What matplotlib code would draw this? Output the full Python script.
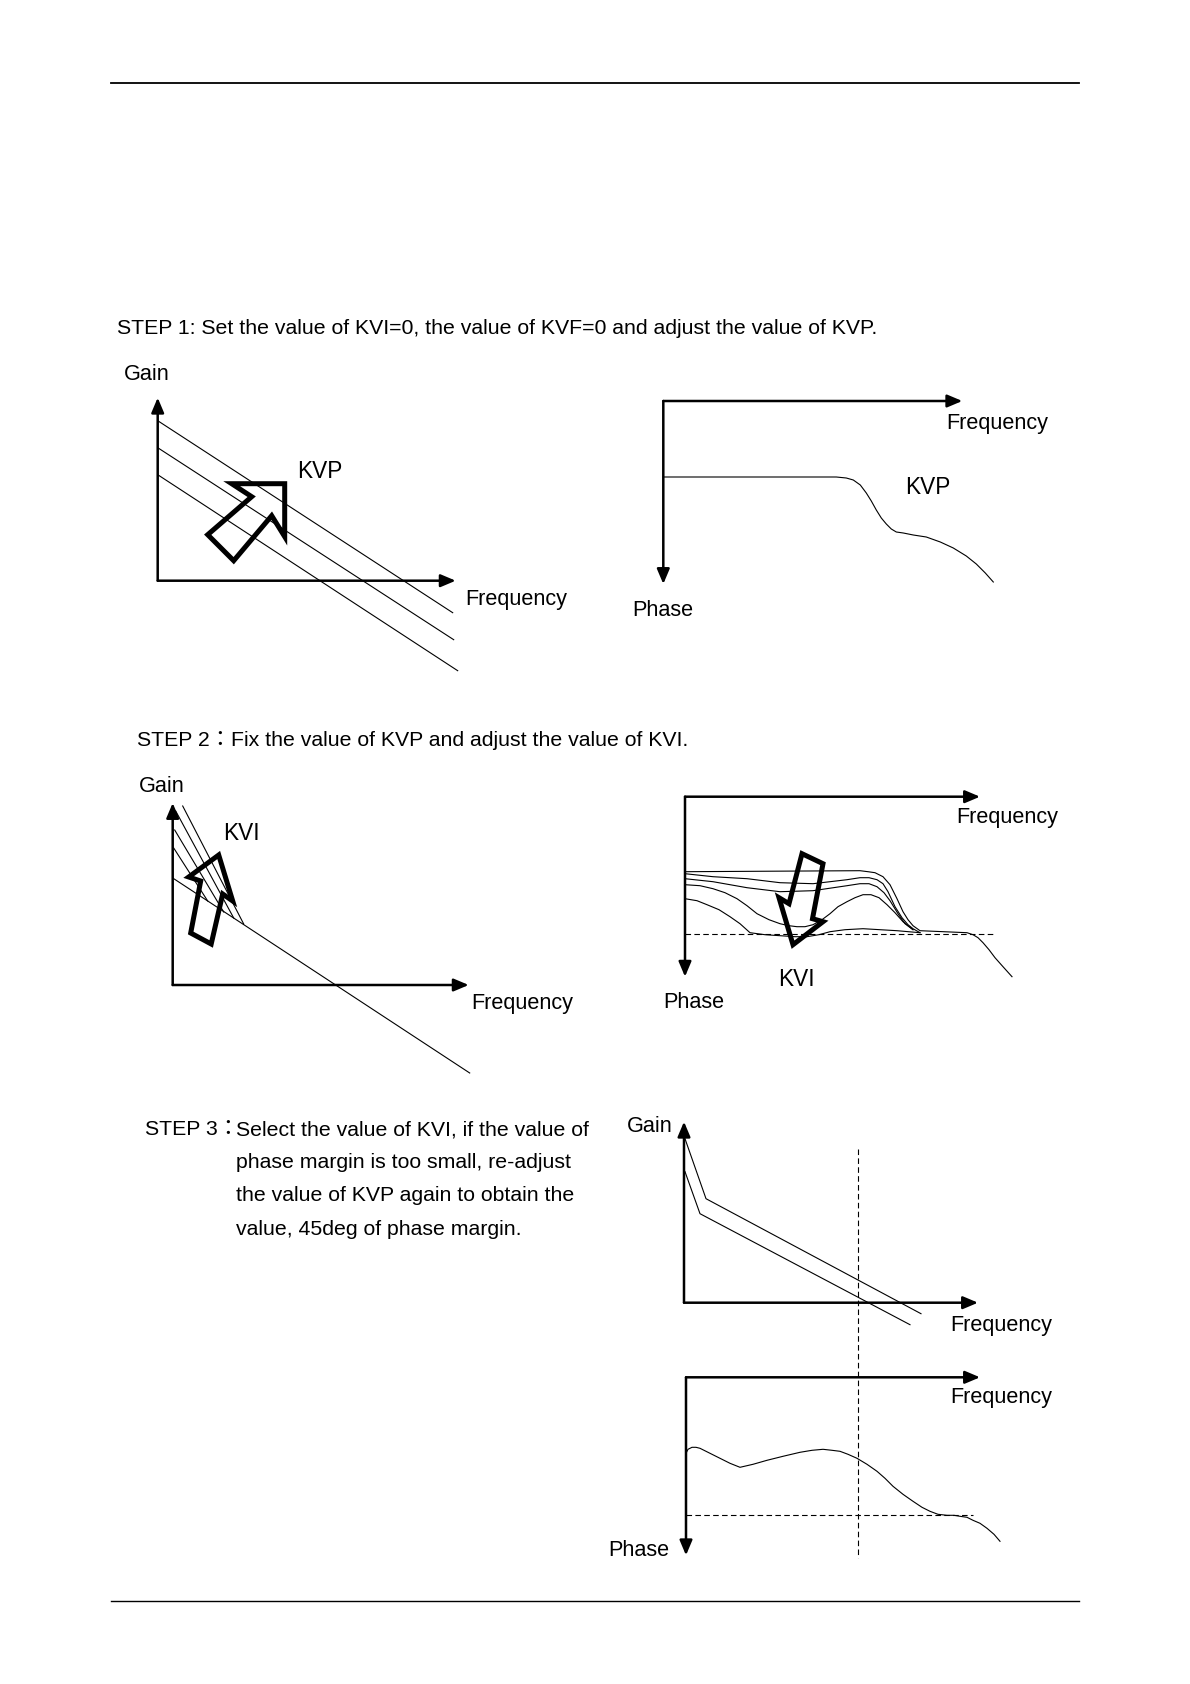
import matplotlib
matplotlib.use("Agg")
import matplotlib.pyplot as plt
from matplotlib.patches import FancyArrowPatch, Polygon, Rectangle
from matplotlib.transforms import Affine2D

plt.rcParams['font.family'] = ['Liberation Sans', 'Noto Sans CJK JP', 'DejaVu Sans']

# ---- text of the page ----
step1_text = "STEP 1: Set the value of KVI=0, the value of KVF=0 and adjust the value of KVP."
step2_text = "STEP 2：Fix the value of KVP and adjust the value of KVI."
step3_head = "STEP 3："
step3_lines = ["Select the value of KVI, if the value of",
               "phase margin is too small, re-adjust",
               "the value of KVP again to obtain the",
               "value, 45deg of phase margin."]

# ---- STEP 1, gain (x = frequency, y = gain, origin at axis corner) ----
s1_gain_x = [[0, 295], [0, 296], [0, 300]]
s1_gain_y = [[160, -32], [133, -59], [106, -90]]
s1_arrow_x = [127, 127, 114, 76, 50, 94, 74]
s1_arrow_y = [97, 44, 65, 20, 46, 84, 97]

# ---- STEP 1, phase (y = phase lag, grows downwards) ----
s1_phase_x = [0, 90, 163, 173, 183, 190, 197, 203, 208, 213, 218, 223, 228, 233, 240, 250,
              263, 277, 290, 303, 313, 322, 330]
s1_phase_y = [76, 76, 76, 76, 77, 79, 84, 92, 100, 109, 117, 123, 128, 131, 132, 134,
              136, 141, 147, 155, 163, 172, 181]

# ---- STEP 2, gain ----
s2_main_x = [0, 297]
s2_main_y = [107, -88]
s2_steep_x = [[10, 71], [3, 61], [2, 51], [1, 35]]
s2_steep_y = [[179, 61], [174, 67], [155, 73], [137, 84]]
s2_arrow_x = [46, 60, 50, 38.5, 18, 28, 16]
s2_arrow_y = [130, 84, 91, 41, 52, 104, 108]

# ---- STEP 2, phase: five curves for growing KVI ----
s2_phase_x = [
    [0, 175, 183, 190, 198, 205, 212, 218, 223, 228, 235, 282, 288, 293, 298, 304, 310, 318, 327],
    [0, 28, 62, 95, 128, 162, 175, 184, 192, 198, 203, 210, 217, 223, 228, 235],
    [0, 28, 62, 95, 128, 162, 175, 184, 192, 199, 205, 213, 220, 228],
    [0, 15, 28, 40, 52, 62, 72, 84, 95, 104, 112, 120, 128, 137, 145, 153, 162, 170, 178,
     186, 194, 202, 210, 218, 228],
    [0, 12, 22, 34, 45, 55, 65, 80, 95, 110, 122, 134, 145, 160, 178, 195, 212, 235],
]
s2_phase_y = [
    [75, 74, 75, 76, 80, 88, 102, 115, 123, 129, 134, 136, 138, 141, 146, 153, 161, 170, 180],
    [77, 80, 82, 86, 87, 83, 81, 81, 83, 87, 95, 110, 121, 128, 132, 136],
    [82, 85, 91, 95, 94, 89, 87, 87, 90, 96, 104, 117, 127, 133],
    [88, 89, 92, 96, 102, 109, 117, 123, 127, 129, 130, 130, 128, 123, 117, 110, 105, 101, 98,
     98, 101, 108, 116, 125, 133],
    [102, 104, 108, 113, 120, 127, 136, 138, 139, 140, 140, 138, 135, 133, 132, 133, 134, 136],
]
s2_margin_x = [0, 310]
s2_margin_y = [137, 137]
s2_arrow_px = [117, 138, 127.5, 138, 108, 94, 104]
s2_arrow_py = [57, 67, 122, 125, 148, 101, 107]

# ---- STEP 3, gain ----
s3_gain_x = [[1, 22, 237], [1, 16, 226]]
s3_gain_y = [[164, 104, -11], [131, 89, -22]]
s3_cross_x = [174, 174]
s3_cross_y = [154, -255]

# ---- STEP 3, phase ----
s3_phase_x = [0, 2, 6, 10, 14, 24, 34, 44, 54, 67, 81, 97, 114, 126, 137, 146, 154, 162, 171,
              181, 191, 199, 207, 217, 227, 236, 244, 252, 261, 268, 274, 281, 287, 294, 301, 308, 314]
s3_phase_y = [76, 72, 70, 70, 71, 76, 81, 86, 90, 87, 83, 79, 75, 73, 72, 73, 74, 77, 81,
              87, 94, 101, 109, 117, 124, 130, 134, 137, 138, 138, 139, 140, 143, 146, 151, 157, 164]
s3_margin_x = [0, 287]
s3_margin_y = [138, 138]

fig = plt.figure(figsize=(11.9, 16.84), dpi=100)
ax = fig.add_axes([0, 0, 1, 1])
ax.set_xlim(0, 1190)
ax.set_ylim(1684, 0)
ax.axis('off')

FS = 15.3
LFS = 15.6
thin = dict(color='k', lw=0.8, solid_joinstyle='round')


def gain_panel(ox, oy):
    return Affine2D().scale(1, -1).translate(ox, oy) + ax.transData


def phase_panel(ox, oy):
    return Affine2D().translate(ox, oy) + ax.transData


def axis_arrow(t, a, b):
    ax.add_patch(FancyArrowPatch(a, b, transform=t, color='k', lw=1.8,
                                 arrowstyle='-|>,head_length=0.9,head_width=0.38',
                                 mutation_scale=10, shrinkA=0, shrinkB=0))


def big_arrow(t, xs, ys):
    ax.add_patch(Polygon(list(zip(xs, ys)), closed=True, fill=False, ec='k',
                         lw=3.6, joinstyle='miter', transform=t))


def label(x, y, s, clip=None, size=LFS):
    txt = ax.text(x, y, s, fontsize=size, va='center', ha='left')
    if clip is not None:
        txt.set_clip_path(Rectangle((0, 0), clip, 1684, transform=ax.transData))
    return txt


# page rules
ax.plot([111, 1079], [83, 83], color='k', lw=1.3)
ax.plot([111, 1079], [1601, 1601], color='k', lw=1.0)

# headings
ax.text(117, 334, step1_text, fontsize=FS, va='baseline')
ax.text(137, 746, step2_text, fontsize=FS, va='baseline')
ax.text(145, 1135, step3_head, fontsize=FS, va='baseline')
for i, line in enumerate(step3_lines):
    ax.text(236, 1135 + i * 33.2, line, fontsize=FS, va='baseline')

# STEP 1 gain
t = gain_panel(157.7, 580.7)
axis_arrow(t, (0, 0), (298, 0))
axis_arrow(t, (0, 0), (0, 183))
for xs, ys in zip(s1_gain_x, s1_gain_y):
    ax.plot(xs, ys, transform=t, **thin)
big_arrow(t, s1_arrow_x, s1_arrow_y)
label(124, 375, "Gain")
label(297, 472, "KVP", size=16.3)
label(465, 600, "Frequency")

# STEP 1 phase
t = phase_panel(663.3, 401)
axis_arrow(t, (0, 0), (299, 0))
axis_arrow(t, (0, 0), (0, 183))
ax.plot(s1_phase_x, s1_phase_y, transform=t, **thin)
label(946, 423, "Frequency", clip=1046)
label(905, 487, "KVP", size=16.3)
label(632, 610, "Phase")

# STEP 2 gain
t = gain_panel(172.7, 985)
axis_arrow(t, (0, 0), (296, 0))
axis_arrow(t, (0, 0), (0, 182))
ax.plot(s2_main_x, s2_main_y, transform=t, **thin)
for xs, ys in zip(s2_steep_x, s2_steep_y):
    ax.plot(xs, ys, transform=t, **thin)
big_arrow(t, s2_arrow_x, s2_arrow_y)
label(139, 787, "Gain")
label(223, 834, "KVI", size=16.3)
label(471, 1004, "Frequency")

# STEP 2 phase
t = phase_panel(685, 796.7)
axis_arrow(t, (0, 0), (295, 0))
axis_arrow(t, (0, 0), (0, 180))
for xs, ys in zip(s2_phase_x, s2_phase_y):
    ax.plot(xs, ys, transform=t, **thin)
ax.plot(s2_margin_x, s2_margin_y, transform=t, ls=(0, (5, 3)), color='k', lw=0.8)
big_arrow(t, s2_arrow_px, s2_arrow_py)
label(956, 817, "Frequency")
label(778, 980, "KVI", size=16.3)
label(663, 1002, "Phase")

# STEP 3 gain
t = gain_panel(684, 1302.7)
axis_arrow(t, (0, 0), (294, 0))
axis_arrow(t, (0, 0), (0, 181))
for xs, ys in zip(s3_gain_x, s3_gain_y):
    ax.plot(xs, ys, transform=t, **thin)
ax.plot(s3_cross_x, s3_cross_y, transform=t, ls=(0, (5, 3)), color='k', lw=0.8)
label(627, 1127, "Gain")
label(950, 1325, "Frequency", clip=1048)

# STEP 3 phase
t = phase_panel(686, 1377.3)
axis_arrow(t, (0, 0), (294, 0))
axis_arrow(t, (0, 0), (0, 178))
ax.plot(s3_phase_x, s3_phase_y, transform=t, **thin)
ax.plot(s3_margin_x, s3_margin_y, transform=t, ls=(0, (5, 3)), color='k', lw=0.8)
label(950, 1398, "Frequency", clip=1048)
label(608, 1550, "Phase")

fig.savefig('out.png', dpi=100)
